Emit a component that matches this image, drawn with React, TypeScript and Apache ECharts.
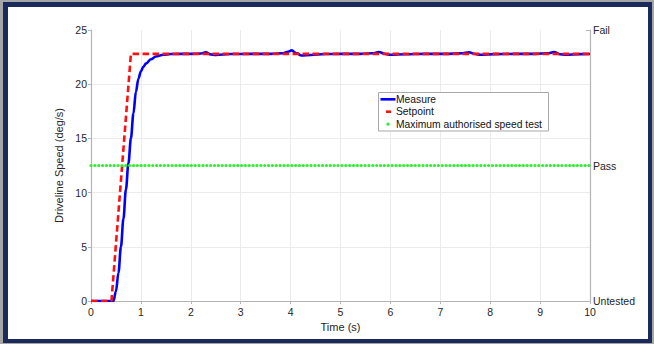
import React, { useEffect, useRef } from "react";
import * as echarts from "echarts";

// ---- data ----
const xTicks = [0, 1, 2, 3, 4, 5, 6, 7, 8, 9, 10];
const yTicks = [0, 5, 10, 15, 20, 25];
const statusLabels = ["Untested", "Pass", "Fail"]; // at 0, 12.5, 25

const measureTime = [
  0, 0.45, 0.5, 0.55, 0.6, 0.65, 0.7, 0.75, 0.8, 0.85, 0.9, 0.95, 1.0, 1.05, 1.1, 1.2, 1.3, 1.45, 1.6, 1.8,
  2.0, 2.2, 2.3, 2.4, 2.5, 2.8, 3.2, 3.6, 3.85, 3.95, 4.02, 4.12, 4.22, 4.4, 4.7, 5.0, 5.4, 5.65, 5.77, 5.9,
  6.0, 6.3, 6.7, 7.1, 7.45, 7.57, 7.7, 7.8, 8.1, 8.5, 8.9, 9.15, 9.28, 9.4, 9.5, 9.8, 10,
];
const measureSpeed = [
  0, 0, 0.9, 2.6, 5.0, 7.6, 10.3, 12.7, 15.0, 17.3, 19.3, 20.5, 21.2, 21.6, 21.9, 22.3, 22.55, 22.72, 22.78, 22.8,
  22.8, 22.83, 22.95, 22.75, 22.7, 22.78, 22.8, 22.8, 22.85, 23.0, 23.12, 22.85, 22.65, 22.7, 22.78, 22.8, 22.8, 22.85, 22.97, 22.78,
  22.72, 22.76, 22.8, 22.8, 22.85, 22.95, 22.78, 22.72, 22.77, 22.8, 22.8, 22.85, 22.97, 22.76, 22.72, 22.77, 22.78,
];

const setpointTime = [0, 0.41, 0.8, 10];
const setpointSpeed = [0, 0, 22.8, 22.8];

const limitTime = [0, 10];
const limitSpeed = [12.5, 12.5];

const seriesNames = ["Measure", "Setpoint", "Maximum authorised speed test"];

const FONT = "'Liberation Sans', Arial, Helvetica, sans-serif";
const TXT = "#262626";
const AXIS = "#b4b4b4";
const GRID = "#ebebeb";

const zip = (a: number[], b: number[]) => a.map((v, i) => [v, b[i]]);

export default function App() {
  const ref = useRef<HTMLDivElement>(null);

  useEffect(() => {
    if (!ref.current) return;
    const chart = echarts.init(ref.current, null, { renderer: "svg", width: 654, height: 344 });

    const legendX = 378.5;
    const legendY = 92.5;
    const rowY = [99.3, 111.7, 124.2];

    chart.setOption({
      animation: false,
      backgroundColor: "transparent",
      textStyle: { fontFamily: FONT },
      grid: { left: 91, right: 64, top: 30, bottom: 43, containLabel: false },
      xAxis: {
        type: "value",
        min: xTicks[0],
        max: xTicks[xTicks.length - 1],
        interval: 1,
        name: "Time (s)",
        nameLocation: "middle",
        nameGap: 19,
        nameTextStyle: { color: TXT, fontSize: 11, fontFamily: FONT },
        axisLine: { show: true, lineStyle: { color: AXIS, width: 1.2 } },
        axisTick: { show: true, inside: false, length: 3, lineStyle: { color: AXIS } },
        axisLabel: { color: TXT, fontSize: 10.5, fontFamily: FONT, margin: 5 },
        splitLine: { show: true, lineStyle: { color: GRID, width: 1 } },
      },
      yAxis: [
        {
          type: "value",
          min: yTicks[0],
          max: yTicks[yTicks.length - 1],
          interval: 5,
          position: "left",
          name: "Driveline Speed (deg/s)",
          nameLocation: "middle",
          nameRotate: 90,
          nameGap: 18,
          nameTextStyle: { color: TXT, fontSize: 11, fontFamily: FONT },
          axisLine: { show: true, lineStyle: { color: AXIS, width: 1.2 } },
          axisTick: { show: true, inside: false, length: 3, lineStyle: { color: AXIS } },
          axisLabel: { color: TXT, fontSize: 10.5, fontFamily: FONT, margin: 4 },
          splitLine: {
            show: true,
            lineStyle: { color: [GRID, GRID, GRID, GRID, GRID, "rgba(0,0,0,0)"], width: 1 },
          },
        },
        {
          type: "value",
          min: 0,
          max: 25,
          interval: 12.5,
          position: "right",
          axisLine: { show: true, lineStyle: { color: AXIS, width: 1.2 } },
          axisTick: { show: true, inside: true, length: 4, lineStyle: { color: AXIS } },
          axisLabel: {
            color: TXT,
            fontSize: 10.5,
            fontFamily: FONT,
            margin: 3,
            formatter: (v: number) => statusLabels[Math.round(v / 12.5)] ?? "",
          },
          splitLine: { show: false },
        },
      ],
      series: [
        {
          name: seriesNames[0],
          type: "line",
          data: zip(measureTime, measureSpeed),
          showSymbol: false,
          symbol: "none",
          smooth: 0.35,
          smoothMonotone: "x",
          lineStyle: { color: "#0000ff", width: 2.6 },
          itemStyle: { color: "#0000ff" },
          z: 2,
        },
        {
          name: seriesNames[1],
          type: "line",
          data: zip(setpointTime, setpointSpeed),
          showSymbol: false,
          symbol: "none",
          lineStyle: { color: "#ff1010", width: 2.6, type: [6.5, 3.5] },
          itemStyle: { color: "#ff1010" },
          z: 3,
        },
        {
          name: seriesNames[2],
          type: "line",
          data: zip(limitTime, limitSpeed),
          showSymbol: false,
          symbol: "none",
          lineStyle: { color: "#2df02d", width: 3.2, type: [0.01, 3.85], cap: "round" },
          itemStyle: { color: "#2df02d" },
          z: 4,
        },
      ],
      graphic: {
        z: 100,
        elements: [
          {
            type: "rect",
            z: 100,
            shape: { x: legendX, y: legendY, width: 170, height: 38.5 },
            style: { fill: "#ffffff", stroke: "#a8a8a8", lineWidth: 1 },
          },
          {
            type: "line",
            z: 101,
            shape: { x1: 380.5, y1: rowY[0], x2: 395.5, y2: rowY[0] },
            style: { stroke: "#0000ff", lineWidth: 2.6 },
          },
          {
            type: "line",
            z: 101,
            shape: { x1: 386, y1: rowY[1], x2: 391, y2: rowY[1] },
            style: { stroke: "#ff1010", lineWidth: 2.6 },
          },
          {
            type: "circle",
            z: 101,
            shape: { cx: 388, cy: rowY[2], r: 1.6 },
            style: { fill: "#2df02d" },
          },
          ...seriesNames.map((n, i) => ({
            type: "text",
            z: 102,
            x: 396,
            y: rowY[i],
            style: {
              text: n,
              fill: "#111",
              font: `10.3px ${FONT}`,
              verticalAlign: "middle",
              align: "left",
            },
          })),
        ],
      },
    });

    return () => chart.dispose();
  }, []);

  return (
    <div style={{ position: "fixed", left: 0, top: 0, width: 654, height: 344, background: "#a6a6a6" }}>
      <div
        style={{
          position: "absolute",
          left: 3,
          top: 2,
          width: 649,
          height: 341,
          boxSizing: "border-box",
          borderStyle: "solid",
          borderColor: "#1b2a5c",
          borderWidth: "5px 4px 4px 5px",
          background: "#ffffff",
        }}
      />
      <div ref={ref} style={{ position: "absolute", left: 0, top: 0, width: 654, height: 344 }} />
    </div>
  );
}
